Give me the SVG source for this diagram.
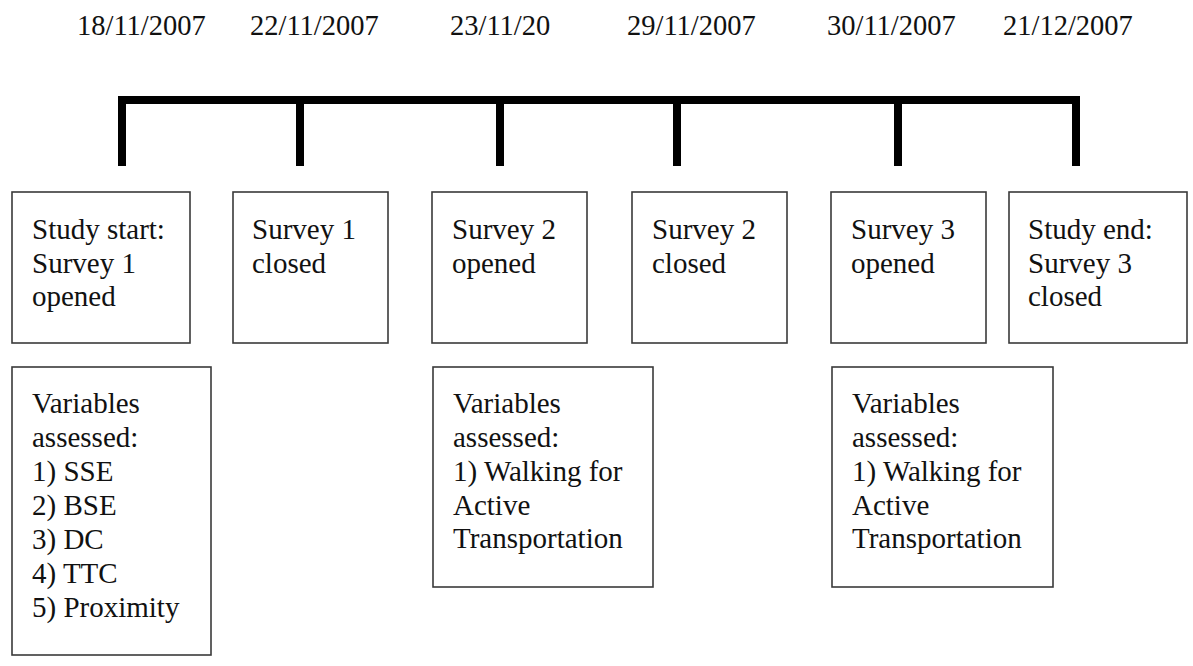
<svg xmlns="http://www.w3.org/2000/svg" width="1193" height="666" viewBox="0 0 1193 666">
<style>
text{font-family:"Liberation Serif","Times New Roman",serif;fill:#111}
.d{font-size:28.5px}
.t{font-size:29px}
.box{fill:#fff;stroke:#3a3a3a;stroke-width:1.6}
.br{fill:none;stroke:#000;stroke-width:8;stroke-linecap:butt}
</style>
<rect width="1193" height="666" fill="#fff"/>
<g id="dates">
<text class="d" x="77" y="35">18/11/2007</text>
<text class="d" x="250" y="35">22/11/2007</text>
<text class="d" x="450" y="35">23/11/20</text>
<text class="d" x="627" y="35">29/11/2007</text>
<text class="d" x="827" y="35">30/11/2007</text>
<text class="d" x="1003" y="35">21/12/2007</text>
</g>
<g id="connectors">
<path class="br" d="M122,166 V100 H1076 V166"/>
<path class="br" d="M300,100 V166 M500,100 V166 M677,100 V166 M898,100 V166"/>
</g>
<g id="n1"><rect class="box" x="12" y="192" width="178" height="151"/>
<text class="t" x="32" y="239">Study start:</text><text class="t" x="32" y="272.5">Survey 1</text><text class="t" x="32" y="306">opened</text></g>
<g id="n2"><rect class="box" x="233" y="192" width="155" height="151"/>
<text class="t" x="252" y="239">Survey 1</text><text class="t" x="252" y="272.5">closed</text></g>
<g id="n3"><rect class="box" x="432" y="192" width="155" height="151"/>
<text class="t" x="452" y="239">Survey 2</text><text class="t" x="452" y="272.5">opened</text></g>
<g id="n4"><rect class="box" x="632" y="192" width="155" height="151"/>
<text class="t" x="652" y="239">Survey 2</text><text class="t" x="652" y="272.5">closed</text></g>
<g id="n5"><rect class="box" x="831" y="192" width="155" height="151"/>
<text class="t" x="851" y="239">Survey 3</text><text class="t" x="851" y="272.5">opened</text></g>
<g id="n6"><rect class="box" x="1009" y="192" width="178" height="151"/>
<text class="t" x="1028" y="239">Study end:</text><text class="t" x="1028" y="272.5">Survey 3</text><text class="t" x="1028" y="306">closed</text></g>
<g id="v1"><rect class="box" x="12" y="367" width="199" height="288"/>
<text class="t" x="32" y="413">Variables</text><text class="t" x="32" y="447">assessed:</text><text class="t" x="32" y="481">1) SSE</text><text class="t" x="32" y="515">2) BSE</text><text class="t" x="32" y="549">3) DC</text><text class="t" x="32" y="583">4) TTC</text><text class="t" x="32" y="617">5) Proximity</text></g>
<g id="v2"><rect class="box" x="433" y="367" width="220" height="220"/>
<text class="t" x="453" y="413">Variables</text><text class="t" x="453" y="447">assessed:</text><text class="t" x="453" y="481">1) Walking for</text><text class="t" x="453" y="515">Active</text><text class="t" x="453" y="548">Transportation</text></g>
<g id="v3"><rect class="box" x="832" y="367" width="221" height="220"/>
<text class="t" x="852" y="413">Variables</text><text class="t" x="852" y="447">assessed:</text><text class="t" x="852" y="481">1) Walking for</text><text class="t" x="852" y="515">Active</text><text class="t" x="852" y="548">Transportation</text></g>
</svg>
